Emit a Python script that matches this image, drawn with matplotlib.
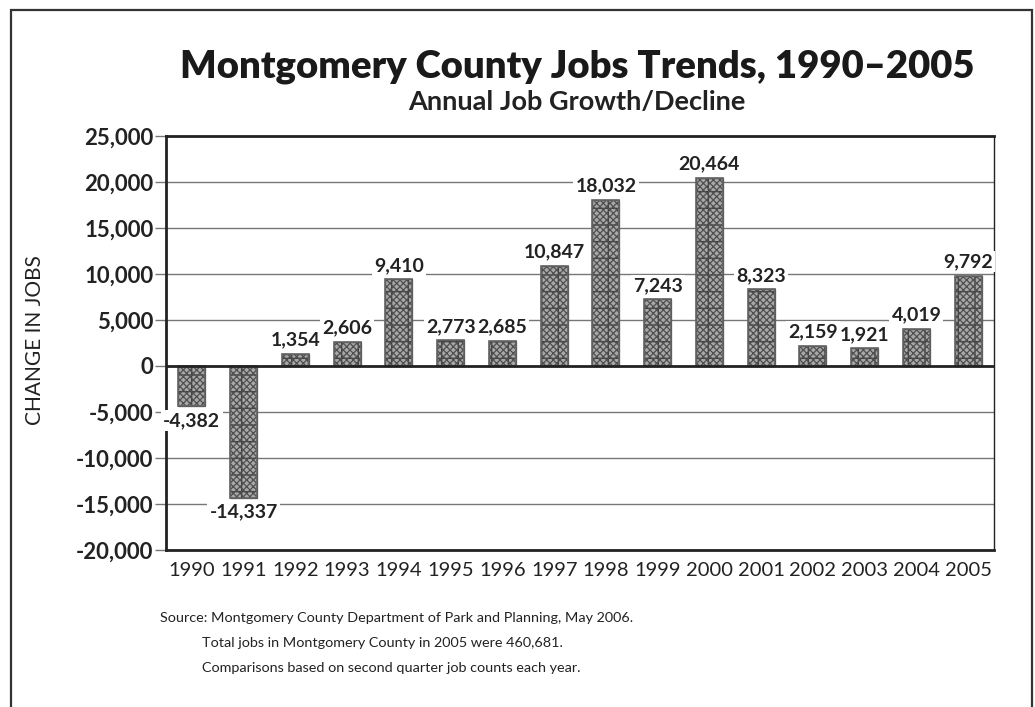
import numpy as np
import matplotlib
matplotlib.use("Agg")
import matplotlib.pyplot as plt
from matplotlib.patches import Rectangle

plt.rcParams['font.family'] = ['Lato', 'DejaVu Sans']
plt.rcParams['hatch.linewidth'] = 0.9

years = [str(y) for y in range(1990, 2006)]
change = [-4382, -14337, 1354, 2606, 9410, 2773, 2685, 10847,
          18032, 7243, 20464, 8323, 2159, 1921, 4019, 9792]
yticks = list(range(-20000, 25001, 5000))
notes = ["Source: Montgomery County Department of Park and Planning, May 2006.",
         "Total jobs in Montgomery County in 2005 were 460,681.",
         "Comparisons based on second quarter job counts each year."]

fig = plt.figure(figsize=(10.35, 7.07), dpi=100)
ax = fig.add_axes([166/1035, 1-550/707, (994-166)/1035, (550-136)/707])

# outer frame
fig.add_artist(Rectangle((11/1035, -0.1), (1032-11)/1035, 1.1-10/707,
                         transform=fig.transFigure, fill=False,
                         edgecolor='#333333', lw=1.6))

x = np.arange(len(years))
ax.bar(x, change, width=0.52, color='#a8a8a8', edgecolor='#3c3c3c',
       hatch='+', lw=0.9, zorder=3)
ax.bar(x, change, width=0.52, color='none', edgecolor='#505050',
       hatch='xxxxx', lw=0, zorder=3.5)
ax.bar(x, change, width=0.52, color='none', edgecolor='#666666', lw=1.2, zorder=4)

for xi, v in zip(x, change):
    if v >= 0:
        ax.annotate(f"{v:,}", (xi, v), xytext=(0, 4), textcoords='offset points',
                    ha='center', va='bottom', fontsize=14, fontweight='bold',
                    color='#222222', zorder=10, annotation_clip=False,
                    bbox=dict(facecolor='white', edgecolor='none', pad=1.5))
    else:
        ax.annotate(f"{v:,}", (xi, v), xytext=(0, -4), textcoords='offset points',
                    ha='center', va='top', fontsize=14, fontweight='bold',
                    color='#222222', zorder=10, annotation_clip=False,
                    bbox=dict(facecolor='white', edgecolor='none', pad=1.5))

ax.set_xlim(-0.5, len(years) - 0.5)
ax.set_ylim(-20000, 25000)
ax.set_yticks(yticks)
ax.set_yticklabels([f"{t:,}" for t in yticks], fontsize=16, fontweight='bold',
                   color='#222222')
ax.set_xticks(x)
ax.set_xticklabels(years, fontsize=14.5, color='#222222')
ax.tick_params(axis='x', length=0, pad=9)
ax.tick_params(axis='y', length=8, width=1, color='#777777', pad=1)
for t in yticks:
    if t == 0:
        ax.axhline(0, color='#222222', lw=2, zorder=5)
    else:
        ax.axhline(t, color='#777777', lw=1, zorder=1)

for side in ['top', 'bottom', 'left']:
    ax.spines[side].set_linewidth(2)
    ax.spines[side].set_color('#222222')
ax.spines['right'].set_linewidth(1)
ax.spines['right'].set_color('#222222')
for s in ax.spines.values():
    s.set_zorder(6)

ax.set_ylabel("CHANGE IN JOBS", fontsize=15, color='#222222')
ax.yaxis.set_label_coords(-121/828, (550-340)/414)

fig.text(577/1035, 1-78/707, "Montgomery County Jobs Trends, 1990\u20132005",
         ha='center', va='baseline', fontsize=27.5, fontweight='heavy', color='#1a1a1a')
fig.text(577/1035, 1-110/707, "Annual Job Growth/Decline", ha='center',
         va='baseline', fontsize=19.5, fontweight='bold', color='#222222')

fig.text(160/1035, 1-622/707, notes[0], ha='left', va='baseline', fontsize=10.35,
         color='#222222')
fig.text(202/1035, 1-647/707, notes[1], ha='left', va='baseline', fontsize=10.35,
         color='#222222')
fig.text(202/1035, 1-672/707, notes[2], ha='left', va='baseline', fontsize=10.35,
         color='#222222')

fig.savefig("out.png", dpi=100)
